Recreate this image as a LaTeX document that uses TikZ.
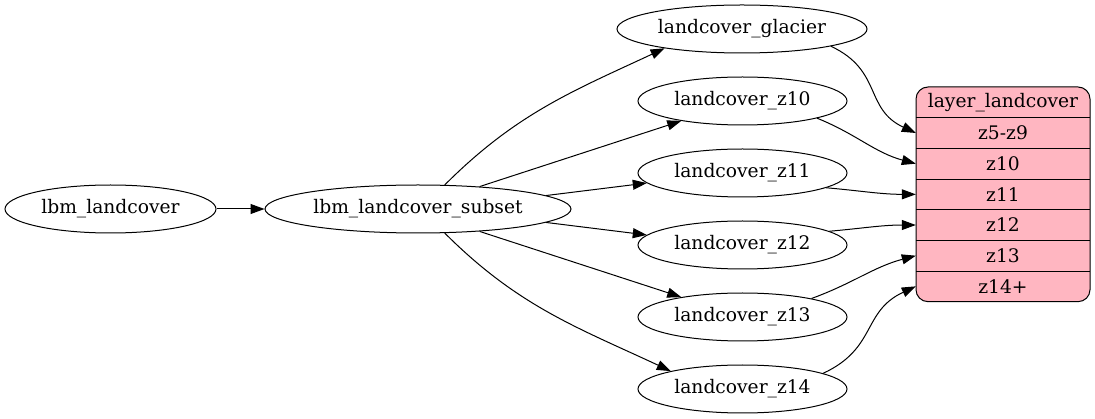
\documentclass[tikz,border=0pt]{standalone}
\usepackage{fontspec}
\setmainfont{DejaVu Serif}
\usetikzlibrary{shapes.geometric,arrows.meta}
\definecolor{lightpink}{HTML}{FFB6C1}

\begin{document}
\begin{tikzpicture}[x=1pt,y=1pt,
		blob/.style={draw, ellipse, line width=1pt, inner sep=0pt, minimum height=48},
		field/.style={minimum width=174, minimum height=30.67, inner sep=0pt},
		edge/.style={-{Triangle[length=14pt,width=10pt]}, line width=1pt}]
				\fontsize{18.67}{22}\selectfont
				\useasboundingbox (0,0) rectangle (1095,-419);
				\node[blob, minimum width=211] (lbm) at (110.5,-209) {lbm\_landcover};
				\node[blob, minimum width=306] (subset) at (418,-209) {lbm\_landcover\_subset};
				\node[blob, minimum width=250] (glacier) at (742,-29) {landcover\_glacier};
				\foreach \z/\y in {10/101, 11/173, 12/245, 13/317, 14/389}
				{
					\node[blob, minimum width=209] (z\z) at (742.5,-\y) {landcover\_z\z};
				}
				\node[draw, rounded corners=12, fill=lightpink, line width=1pt,
					minimum width=174, minimum height=214.67] (layer) at (1003,-194.33) {};
				\foreach \lbl [count=\i from 0] in {layer\_landcover, z5-z9, z10, z11, z12, z13, z14+}
				{
					\node[field] (row\i) at (1003,-102.33-30.67*\i) {\lbl};
				}
				\foreach \i in {0,...,5}
				{
					\draw[line width=1pt] (row\i.south west) -- (row\i.south east);
				}
				\draw[edge] (lbm) -- (subset);
				\draw[edge] (subset.42) to[out=45, in=205] (glacier.194);
				\draw[edge] (subset.20) -- (z10.198);
				\draw[edge] (subset.6) -- (z11.186);
				\draw[edge] (subset.-6) -- (z12.174);
				\draw[edge] (subset.-20) -- (z13.162);
				\draw[edge] (subset.-42) to[out=-45, in=155] (z14.166);
				\draw[edge] (glacier.-11) to[out=-25, in=155, looseness=1.2] (row1.west);
				\draw[edge] (z10.-13) to[out=-22, in=165] (row2.west);
				\draw[edge] (z11.-10) to[out=-5, in=180] (row3.west);
				\draw[edge] (z12.9) to[out=5, in=180] (row4.west);
				\draw[edge] (z13.15) to[out=20, in=195] (row5.west);
				\draw[edge] (z14.11) to[out=25, in=205, looseness=1.2] (row6.west);
			\end{tikzpicture}
\end{document}
